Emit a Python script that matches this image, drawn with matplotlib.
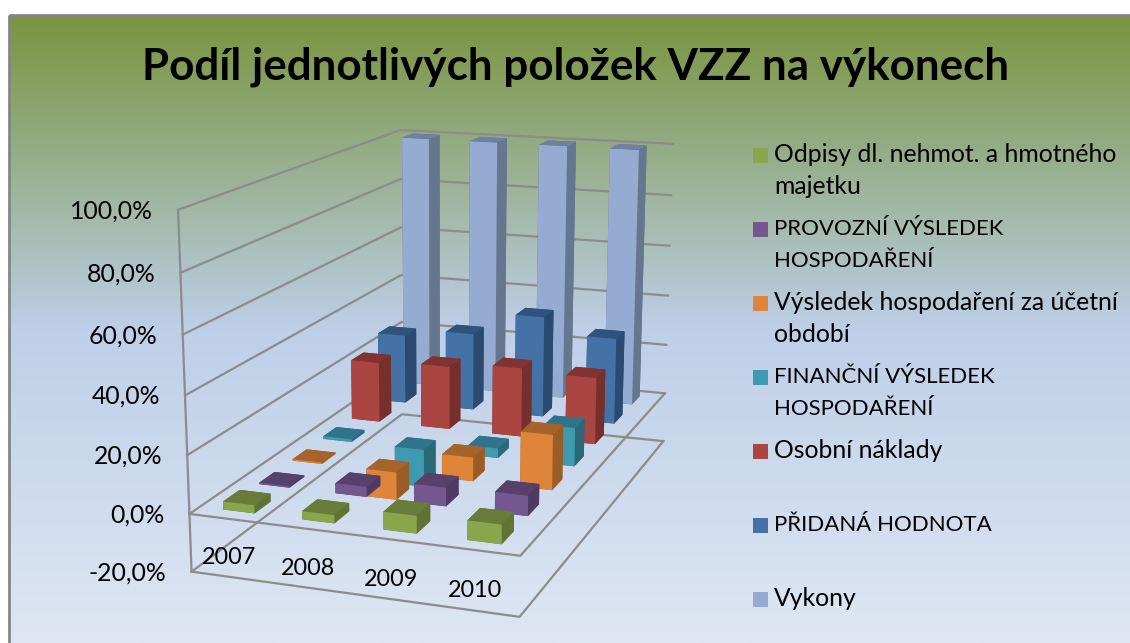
import numpy as np
import matplotlib
matplotlib.use("Agg")
import matplotlib.pyplot as plt
from matplotlib.patches import Rectangle

TITLE = "Podíl jednotlivých položek VZZ na výkonech"
years = ["2007", "2008", "2009", "2010"]
series = ["Odpisy dl. nehmot. a hmotného\nmajetku",
          "PROVOZNÍ VÝSLEDEK\nHOSPODAŘENÍ",
          "Výsledek hospodaření za účetní\nobdobí",
          "FINANČNÍ VÝSLEDEK\nHOSPODAŘENÍ",
          "Osobní náklady",
          "PŘIDANÁ HODNOTA",
          "Vykony"]
odpisy = [2.8, 2.8, 6.0, 6.5]
provozni = [0.5, 3.5, 6.5, 7.0]
vysledek = [0.5, -10.0, 8.5, 19.5]
financni = [1.0, -14.0, 3.5, 14.0]
osobni = [23.0, 24.0, 26.0, 25.0]
pridana = [27.0, 30.0, 39.0, 33.0]
vykony = [100.0, 100.0, 100.0, 100.0]
values = [odpisy, provozni, vysledek, financni, osobni, pridana, vykony]
z_ticks = [-20, 0, 20, 40, 60, 80, 100]
z_labels = ["-20,0%", "0,0%", "20,0%", "40,0%", "60,0%", "80,0%", "100,0%"]

# (front, top, side) face colours per series
face_colors = [("#8AA64C", "#677C39", "#5F7334"),
               ("#75578F", "#57416B", "#4F3B62"),
               ("#DE853A", "#A6642B", "#9A5D28"),
               ("#409AAF", "#30748A", "#2A6A78"),
               ("#AB4541", "#803330", "#75302D"),
               ("#4472A6", "#2F537D", "#2A4A70"),
               ("#95ABD1", "#6F80A0", "#65768F")]

W, H = 1130, 643
fig = plt.figure(figsize=(W / 100, H / 100), dpi=100, facecolor="white")

# chart-area background with vertical gradient
bg = fig.add_axes([0, 0, 1, 1], zorder=0)
stops_y = [15, 120, 330, 643]
stops_c = np.array([[122, 148, 62], [142, 167, 118], [190, 207, 232], [222, 231, 243]]) / 255
ys = np.arange(15, H + 1)
grad = np.stack([np.interp(ys, stops_y, stops_c[:, i]) for i in range(3)], axis=1)[:, None, :]
bg.imshow(grad, extent=(9, W, H, 15), aspect="auto", interpolation="bilinear", zorder=0)
bg.set_xlim(0, W); bg.set_ylim(H, 0); bg.axis("off")
bg.add_patch(Rectangle((9, 15), W + 20, H + 20, fill=False, ec="#868686", lw=2, zorder=1))

# 3D axes with a camera calibrated to the picture's plot box
ax = fig.add_axes([0, 0, 1, 1], projection="3d", zorder=1, computed_zorder=False)
ax.patch.set_alpha(0)
ax.set_axis_off()
ax.apply_aspect = lambda position=None: None

NX, NY = len(years), len(series)
world = np.array([(0, 0, 100), (0, 0, 0), (0, 0, -20), (0, NY, 100), (0, NY, 0), (0, NY, -20),
                  (NX, NY, 100), (NX, NY, 0), (NX, NY, -20), (NX, 0, 0), (NX, 0, -20)], float)
image = np.array([(178, 210), (190, 513), (191, 572), (400, 130), (402, 368), (402, 415),
                  (673, 144), (665, 393), (663, 441), (520, 556), (520, 617)], float)
A = []
for (X, Y, Z), (u, v) in zip(world, image):
    A.append([X, Y, Z, 1, 0, 0, 0, 0, -u * X, -u * Y, -u * Z, -u])
    A.append([0, 0, 0, 0, X, Y, Z, 1, -v * X, -v * Y, -v * Z, -v])
P = np.linalg.svd(np.array(A))[2][-1].reshape(3, 4)
P /= P[2, 3]
flip = np.array([[1, 0, 0], [0, -1, H], [0, 0, 1.0]])  # picture pixels -> display pixels


def camera():
    Q = ax.transData.inverted().get_matrix() @ flip @ P
    return np.array([Q[0], Q[1], [0, 0, 0, -1.0], Q[2]])


def to_picture(x, y, z):
    p = P @ np.array([x, y, z, 1.0])
    return p[0] / p[2], p[1] / p[2]


ax.get_proj = camera

# plot box lines
LINE = dict(color="#8C8C8C", lw=1.6, zorder=0.5)
for z in z_ticks:
    ax.plot([0, 0, NX], [0, NY, NY], [z, z, z], **LINE)
for z in (-20, 0):
    ax.plot([0, NX, NX], [0, 0, NY], [z, z, z], **LINE)
ax.plot([0, 0], [0, 0], [-20, 100], **LINE)

# bars, back to front, left to right
BW, BD = 0.40, 0.45
order = 1.0
for j in range(NY - 1, -1, -1):
    front, top, side = face_colors[j]
    faces = [top, top, front, side, side, side]
    for i in range(NX):
        ax.bar3d(i + 0.5 - BW / 2, j + 0.5 - BD / 2, 0, BW, BD, values[j][i],
                 color=faces, shade=False, zorder=order)
        order += 1

# overlay: axis labels, title and legend
ov = fig.add_axes([0, 0, 1, 1], zorder=2)
ov.set_xlim(0, W); ov.set_ylim(H, 0); ov.axis("off"); ov.patch.set_alpha(0)
for z, lab in zip(z_ticks, z_labels):
    u, v = to_picture(0, 0, z)
    ov.text(u - 25, v + 1, lab, ha="right", va="center", fontsize=17.8, family="Lato", color="black")
for i, y in enumerate(years):
    u, v = to_picture(i + 0.5, 0, -13)
    ov.text(u - 1, v + 1, y, ha="center", va="center", fontsize=16.8, family="Lato", color="black")
ov.text(575.5, 67, TITLE, ha="center", va="center", fontsize=31.65, fontweight="bold", family="Lato", color="black")
for k, lab in enumerate(series):
    yc = 155 + 74 * k
    ov.add_patch(Rectangle((753, yc - 7.5), 15, 15, fc=face_colors[k][0], ec="none"))
    for n, line in enumerate(lab.split("\n")):
        ov.text(774, yc + 32 * n, line, ha="left", va="center", fontsize=16 if line.isupper() else 17.8,
                family="Lato", color="black")

fig.savefig("out.png", dpi=100)
